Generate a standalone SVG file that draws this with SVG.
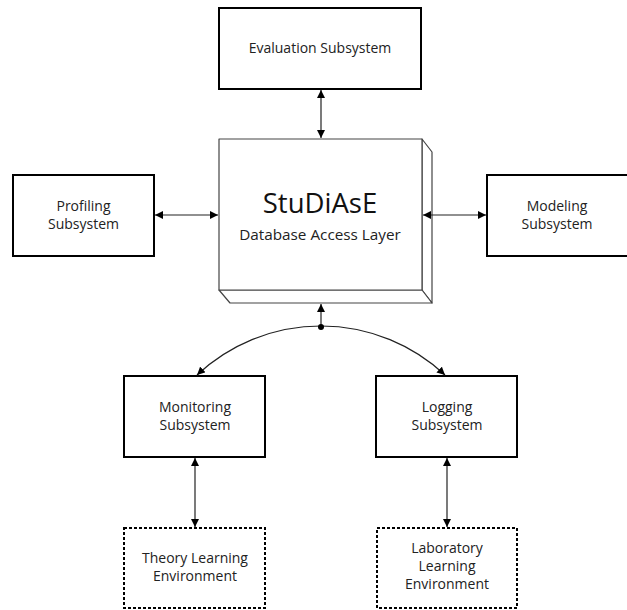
<svg xmlns="http://www.w3.org/2000/svg" width="627" height="610" viewBox="0 0 627 610">
<style>
.box{fill:#fff;stroke:#000;stroke-width:2}
.dash{fill:#fff;stroke:#000;stroke-width:2;stroke-dasharray:3 2}
.core{fill:#fff;stroke:#444;stroke-width:1.2;stroke-linejoin:round}
.lbl{font-family:"Open Sans","Noto Sans",sans-serif;font-size:14px;fill:#222;text-anchor:middle}
.con{fill:none;stroke:#222;stroke-width:1.2}
</style>
<defs>
<marker id="ah" viewBox="0 0 10 10" refX="10" refY="5" markerWidth="8" markerHeight="8" markerUnits="userSpaceOnUse" orient="auto-start-reverse">
<path d="M0,0 L10,5 L0,10 z" fill="#000"/>
</marker>
</defs>
<g id="evaluation">
<rect class="box" x="219" y="8" width="202" height="81"/>
<text class="lbl" x="320" y="53">Evaluation Subsystem</text>
</g>
<g id="core">
<polygon class="core" points="422,139 432,152 432,303 422,290"/>
<polygon class="core" points="219,290 230,303 432,303 422,290"/>
<rect class="core" x="219" y="139" width="203" height="151"/>
<text x="320" y="213" style="font-family:'Open Sans','Noto Sans',sans-serif;font-size:27.5px;fill:#111;text-anchor:middle">StuDiAsE</text>
<text x="320" y="240" style="font-family:'Open Sans','Noto Sans',sans-serif;font-size:15.3px;fill:#222;text-anchor:middle">Database Access Layer</text>
</g>
<g id="profiling">
<rect class="box" x="13" y="175" width="141" height="81"/>
<text class="lbl" x="83.5" y="211">Profiling</text>
<text class="lbl" x="83.5" y="229">Subsystem</text>
</g>
<g id="modeling">
<rect class="box" x="487" y="175" width="141" height="81"/>
<text class="lbl" x="557" y="211">Modeling</text>
<text class="lbl" x="557" y="229">Subsystem</text>
</g>
<g id="monitoring">
<rect class="box" x="124" y="376" width="141" height="81"/>
<text class="lbl" x="195" y="412">Monitoring</text>
<text class="lbl" x="195" y="430">Subsystem</text>
</g>
<g id="logging">
<rect class="box" x="376" y="376" width="141" height="81"/>
<text class="lbl" x="447" y="412">Logging</text>
<text class="lbl" x="447" y="430">Subsystem</text>
</g>
<g id="theory">
<rect class="dash" x="124" y="528" width="141" height="80"/>
<text class="lbl" x="195" y="563">Theory Learning</text>
<text class="lbl" x="195" y="581">Environment</text>
</g>
<g id="laboratory">
<rect class="dash" x="377" y="528" width="140" height="80"/>
<text class="lbl" x="447" y="553">Laboratory</text>
<text class="lbl" x="447" y="571">Learning</text>
<text class="lbl" x="447" y="589">Environment</text>
</g>
<g id="connectors">
<line class="con" x1="321" y1="90" x2="321" y2="138" marker-start="url(#ah)" marker-end="url(#ah)"/>
<line class="con" x1="155" y1="215" x2="218" y2="215" marker-start="url(#ah)" marker-end="url(#ah)"/>
<line class="con" x1="423" y1="215" x2="486" y2="215" marker-start="url(#ah)" marker-end="url(#ah)"/>
<line class="con" x1="321" y1="327" x2="321" y2="304" marker-end="url(#ah)"/>
<path class="con" d="M197,375 A181.4,181.4 0 0 1 445,375" marker-start="url(#ah)" marker-end="url(#ah)"/>
<circle cx="321" cy="327" r="3" fill="#000"/>
<line class="con" x1="195" y1="458" x2="195" y2="527" marker-start="url(#ah)" marker-end="url(#ah)"/>
<line class="con" x1="447" y1="458" x2="447" y2="527" marker-start="url(#ah)" marker-end="url(#ah)"/>
</g>
</svg>
